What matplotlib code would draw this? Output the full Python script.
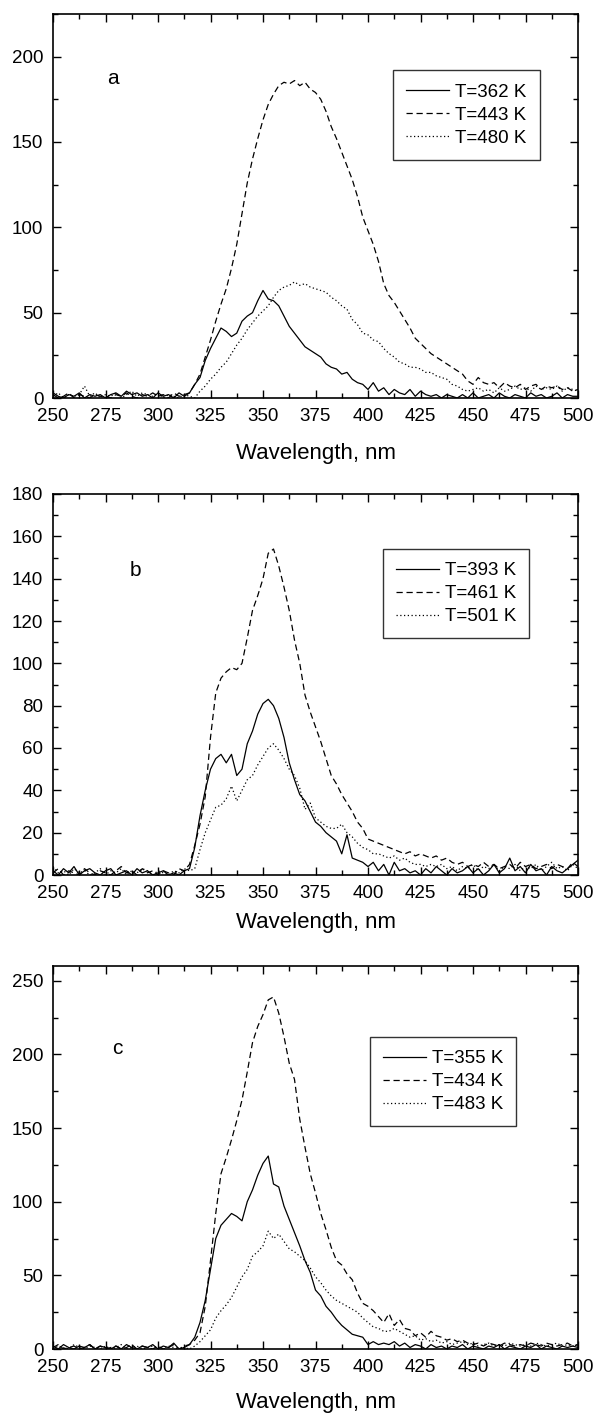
import numpy as np
import matplotlib
matplotlib.use("Agg")
import matplotlib.pyplot as plt
from matplotlib.ticker import MultipleLocator

plt.rcParams['font.family'] = ['Liberation Sans', 'DejaVu Sans']

# wavelength grid (nm), 2.5 nm steps
wavelength = np.arange(250, 500.1, 2.5)

# panel a
a_362 = [3, 1, 0, 2, 1, 3, 0, 2, 1, 2,
         0, 2, 3, 1, 4, 2, 3, 1, 2, 0,
         3, 1, 2, 0, 3, 1, 3, 8, 12, 22,
         29, 35, 41, 39, 36, 38, 45, 48, 50, 57,
         63, 58, 57, 54, 48, 42, 38, 34, 30, 28,
         26, 24, 20, 18, 17, 14, 15, 11, 9, 8,
         5, 9, 4, 6, 2, 5, 3, 2, 5, 1,
         4, 2, 1, 2, 0, 2, 1, 0, 2, 0,
         3, 0, 1, 2, 0, 3, 1, 0, 2, 1,
         0, 3, 1, 2, 0, 1, 3, 0, 2, 1,
         1]
a_443 = [2, 0, 1, 3, 0, 2, 1, 0, 2, 1,
         1, 0, 2, 1, 3, 1, 0, 2, 1, 3,
         1, 2, 0, 3, 1, 2, 3, 8, 14, 24,
         34, 45, 55, 64, 76, 90, 108, 126, 140, 152,
         163, 172, 178, 183, 185, 184, 186, 183, 185, 181,
         179, 175, 168, 159, 152, 144, 136, 128, 118, 106,
         98, 90, 80, 67, 60, 56, 51, 46, 41, 35,
         32, 29, 26, 24, 22, 20, 18, 16, 14, 10,
         8, 12, 9, 8, 9, 6, 9, 7, 6, 8,
         5, 7, 8, 5, 7, 6, 7, 5, 6, 4,
         5]
a_480 = [1, 3, 0, 2, 1, 2, 7, 1, 3, 0,
         2, 1, 3, 0, 2, 4, 1, 3, 2, 1,
         3, 0, 2, 1, 0, 2, 1, 0, 4, 7,
         11, 14, 18, 21, 26, 31, 35, 40, 44, 48,
         51, 54, 59, 63, 65, 66, 68, 66, 67, 65,
         64, 63, 62, 59, 57, 54, 52, 46, 43, 38,
         37, 34, 33, 29, 26, 24, 21, 20, 18, 18,
         17, 15, 15, 13, 12, 11, 8, 7, 5, 4,
         5, 6, 4, 5, 3, 6, 4, 5, 7, 5,
         6, 4, 7, 5, 6, 5, 7, 4, 6, 5,
         4]

# panel b
b_393 = [2, 0, 3, 1, 4, 0, 2, 3, 1, 0,
         2, 3, 0, 1, 2, 0, 3, 1, 2, 0,
         1, 2, 0, 1, 0, 2, 3, 13, 28, 40,
         50, 55, 57, 53, 57, 47, 50, 62, 68, 76,
         81, 83, 80, 74, 65, 53, 45, 38, 35, 30,
         25, 23, 20, 18, 16, 10, 19, 8, 7, 6,
         4, 6, 2, 5, 0, 6, 2, 3, 1, 2,
         0, 3, 1, 4, 2, 0, 3, 1, 2, 4,
         1, 3, 0, 2, 5, 1, 3, 8, 2, 4,
         1, 5, 2, 3, 0, 4, 2, 1, 3, 5,
         7]
b_461 = [1, 3, 0, 2, 1, 0, 3, 1, 0, 2,
         1, 0, 2, 4, 1, 2, 0, 3, 1, 2,
         0, 2, 1, 0, 3, 2, 5, 14, 24, 37,
         65, 86, 93, 96, 98, 97, 100, 112, 125, 132,
         140, 152, 154, 146, 136, 125, 111, 100, 85, 77,
         70, 63, 55, 47, 43, 38, 34, 30, 25, 22,
         17, 16, 15, 14, 13, 12, 11, 10, 11, 9,
         10, 9, 8, 9, 7, 8, 6, 5, 6, 4,
         5, 4, 6, 4, 5, 3, 4, 5, 3, 6,
         4, 5, 3, 4, 5, 3, 5, 4, 3, 6,
         4]
b_501 = [4, 1, 2, 0, 3, 1, 2, 0, 1, 3,
         0, 2, 1, 3, 0, 2, 1, 3, 2, 0,
         2, 1, 0, 2, 1, 3, 2, 3, 12, 20,
         26, 32, 33, 36, 42, 35, 40, 45, 47, 52,
         56, 60, 62, 59, 55, 50, 47, 41, 31, 34,
         27, 25, 23, 22, 22, 24, 20, 18, 15, 13,
         12, 10, 10, 9, 8, 9, 7, 8, 6, 5,
         5, 4, 5, 4, 5, 3, 4, 2, 4, 3,
         5, 2, 4, 3, 5, 2, 4, 3, 5, 2,
         4, 3, 5, 2, 4, 6, 3, 4, 2, 5,
         3]

# panel c
c_355 = [2, 0, 3, 1, 0, 2, 1, 3, 0, 2,
         1, 0, 2, 0, 3, 1, 0, 2, 1, 3,
         0, 2, 1, 4, 0, 1, 3, 8, 18, 33,
         54, 75, 84, 88, 92, 90, 87, 100, 108, 118,
         126, 131, 112, 110, 97, 88, 79, 70, 60, 52,
         40, 36, 29, 25, 20, 16, 13, 10, 9, 8,
         3, 5, 3, 4, 3, 5, 2, 4, 1, 3,
         2, 0, 3, 1, 2, 0, 2, 1, 3, 0,
         2, 1, 0, 2, 1, 3, 0, 2, 1, 0,
         2, 1, 3, 0, 2, 1, 0, 2, 1, 2,
         1]
c_434 = [1, 3, 0, 1, 2, 0, 1, 3, 0, 2,
         0, 1, 2, 0, 1, 3, 0, 2, 1, 0,
         2, 0, 1, 3, 0, 2, 3, 6, 11, 29,
         60, 92, 119, 130, 142, 155, 169, 188, 208, 219,
         227, 237, 239, 228, 212, 194, 183, 156, 137, 119,
         106, 92, 81, 69, 60, 57, 51, 47, 38, 31,
         29, 26, 22, 18, 24, 16, 20, 14, 13, 9,
         11, 8, 12, 9, 8, 6, 7, 5, 6, 4,
         3, 4, 2, 4, 3, 2, 4, 3, 2, 3,
         2, 4, 3, 2, 4, 3, 2, 3, 4, 2,
         3]
c_483 = [0, 2, 1, 0, 3, 1, 0, 2, 1, 0,
         2, 0, 1, 3, 0, 1, 2, 0, 1, 2,
         1, 0, 2, 1, 0, 1, 0, 2, 5, 9,
         13, 21, 26, 30, 35, 42, 49, 54, 63, 66,
         70, 80, 75, 78, 73, 68, 66, 63, 60, 55,
         49, 45, 40, 36, 33, 31, 29, 27, 25, 21,
         18, 15, 14, 12, 12, 14, 12, 10, 8, 9,
         6, 7, 5, 6, 4, 5, 3, 4, 5, 3,
         4, 2, 3, 4, 2, 3, 2, 4, 3, 2,
         3, 2, 4, 3, 2, 3, 4, 2, 3, 2,
         3]

panels = [
    dict(tag='a', series=[a_362, a_443, a_480], labels=['T=362 K', 'T=443 K', 'T=480 K'],
         ymax=225, major=50, minor=25, rect=[53, 14, 525, 384], leg=(0.648, 0.853),
         tagpos=(278.6, 187), labelpad=13),
    dict(tag='b', series=[b_393, b_461, b_501], labels=['T=393 K', 'T=461 K', 'T=501 K'],
         ymax=180, major=20, minor=10, rect=[53, 494, 525, 381], leg=(0.628, 0.856),
         tagpos=(289.3, 144), labelpad=7),
    dict(tag='c', series=[c_355, c_434, c_483], labels=['T=355 K', 'T=434 K', 'T=483 K'],
         ymax=260, major=50, minor=25, rect=[53, 966, 525, 383], leg=(0.604, 0.815),
         tagpos=(280.8, 204), labelpad=11),
]

styles = ['-', (0, (5, 3)), (0, (1, 2))]

W, H = 597, 1414
fig = plt.figure(figsize=(W / 100, H / 100), dpi=100)

for p in panels:
    x0, y0, w, h = p['rect']
    ax = fig.add_axes([x0 / W, 1 - (y0 + h) / H, w / W, h / H])
    for s, ls, lab in zip(p['series'], styles, p['labels']):
        ax.plot(wavelength, s, color='black', lw=0.9, linestyle=ls, label=lab)
    ax.set_xlim(250, 500)
    ax.set_ylim(0, p['ymax'])
    ax.xaxis.set_major_locator(MultipleLocator(25))
    ax.xaxis.set_minor_locator(MultipleLocator(12.5))
    ax.yaxis.set_major_locator(MultipleLocator(p['major']))
    ax.yaxis.set_minor_locator(MultipleLocator(p['minor']))
    ax.tick_params(which='both', direction='in', top=True, right=True, labelsize=13.5)
    ax.tick_params(which='major', length=6, width=1)
    ax.tick_params(which='minor', length=3.5, width=1)
    ax.tick_params(axis='x', pad=7.5)
    ax.tick_params(axis='y', pad=7)
    for sp in ax.spines.values():
        sp.set_linewidth(1.2)
    ax.set_xlabel('Wavelength, nm', fontsize=16, labelpad=p['labelpad'])
    ax.text(p['tagpos'][0], p['tagpos'][1], p['tag'], fontsize=15, ha='center', va='center')
    leg = ax.legend(loc='upper left', bbox_to_anchor=p['leg'], borderaxespad=0, fontsize=13.5,
                    frameon=True, fancybox=False, edgecolor='black', handlelength=2.3,
                    handletextpad=0.3, labelspacing=0.32, borderpad=0.7)
    leg.get_frame().set_linewidth(1.0)

fig.savefig('out.png', dpi=100)
